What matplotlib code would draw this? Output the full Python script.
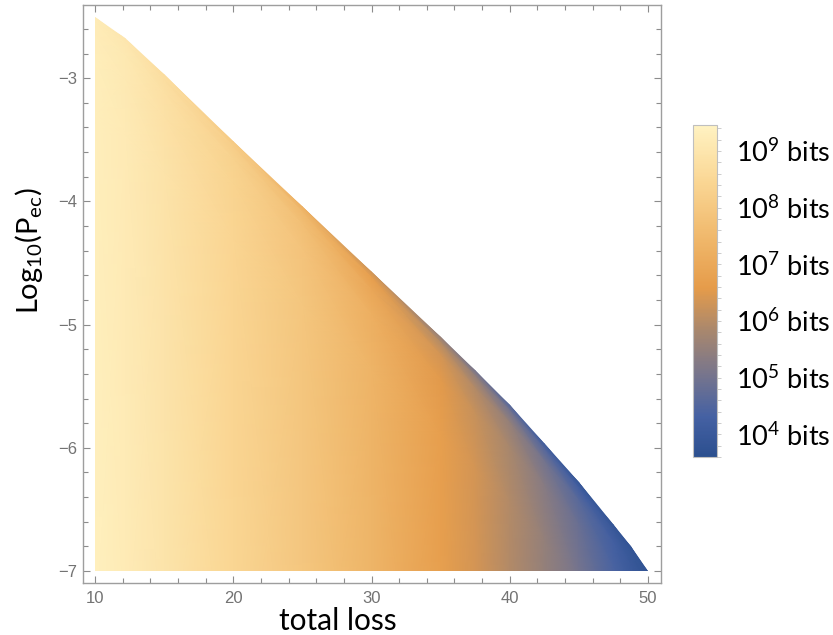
import numpy as np
import matplotlib
matplotlib.use("Agg")
import matplotlib.pyplot as plt
from matplotlib.colors import LinearSegmentedColormap, Normalize
from matplotlib.patches import Polygon
from matplotlib.ticker import MultipleLocator
import matplotlib.colorbar as mcolorbar

plt.rcParams['mathtext.fontset'] = 'custom'
plt.rcParams['mathtext.rm'] = 'Lato'
plt.rcParams['mathtext.it'] = 'Lato:italic'

# ======== data ========
# upper edge of the filled region: total loss -> max log10(P_ec)
loss = [10, 12.2, 15, 20, 25, 30, 35, 37.5, 40, 42.5, 45, 47.5, 48.75, 50]
edge_logp = [-2.50, -2.67, -2.97, -3.51, -4.04, -4.57, -5.10, -5.37, -5.65,
             -5.96, -6.28, -6.62, -6.80, -7.0]
logp_min = -7.0

# depth below the upper edge (in log10 P_ec units) where values were read
depth = [0, 0.05, 0.15, 0.35, 0.8, 5.0]
bits_d0 = [9.20, 9.00, 8.70, 8.05, 7.20, 6.30, 5.50, 5.00, 4.50, 4.10, 3.90, 3.85, 3.82, 3.80]
bits_d1 = [9.22, 9.05, 8.75, 8.20, 7.50, 6.70, 6.00, 5.50, 5.00, 4.55, 4.25, 4.00, 3.90, 3.80]
bits_d2 = [9.25, 9.10, 8.80, 8.30, 7.70, 6.95, 6.35, 5.95, 5.50, 5.00, 4.60, 4.25, 4.00, 3.80]
bits_d3 = [9.28, 9.13, 8.85, 8.37, 7.85, 7.20, 6.55, 6.20, 5.80, 5.30, 4.85, 4.40, 4.10, 3.80]
bits_d4 = [9.32, 9.17, 8.92, 8.42, 7.92, 7.35, 6.70, 6.35, 5.95, 5.50, 5.05, 4.55, 4.20, 3.80]
bits_d5 = [9.35, 9.20, 8.95, 8.45, 7.95, 7.40, 6.75, 6.40, 6.00, 5.55, 5.10, 4.60, 4.20, 3.80]

cbar_ticks = [4, 5, 6, 7, 8, 9]
cbar_min, cbar_max = 3.6, 9.46

# colour scale (blue -> grey -> orange -> cream), like StarryNightColors
cmap = LinearSegmentedColormap.from_list("starry", [
    (0.00, (0.17, 0.31, 0.56)),
    (0.12, (0.27, 0.38, 0.64)),
    (0.25, (0.47, 0.46, 0.55)),
    (0.38, (0.66, 0.53, 0.43)),
    (0.51, (0.90, 0.61, 0.29)),
    (0.66, (0.94, 0.72, 0.42)),
    (0.83, (0.98, 0.84, 0.58)),
    (1.00, (1.00, 0.95, 0.76)),
])
norm = Normalize(cbar_min, cbar_max)

grey = (0.55, 0.55, 0.55)

fig = plt.figure(figsize=(8.33, 6.35), dpi=100)
ax = fig.add_axes([83/833, 1-583/635, 578/833, 578/635])

X = np.tile(loss, (len(depth), 1))
Y = np.array(edge_logp)[None, :] - np.array(depth)[:, None]
Z = np.array([bits_d0, bits_d1, bits_d2, bits_d3, bits_d4, bits_d5])

region = Polygon(list(zip(loss, edge_logp)) + [(loss[-1], logp_min), (loss[0], logp_min)],
                 closed=True, facecolor='none', edgecolor='none')
ax.add_patch(region)
mesh = ax.pcolormesh(X, Y, Z, shading='gouraud', cmap=cmap, norm=norm)
mesh.set_clip_path(region)

ax.set_xlim(9.13, 50.94)
ax.set_ylim(-7.097, -2.406)
ax.xaxis.set_major_locator(MultipleLocator(10))
ax.xaxis.set_minor_locator(MultipleLocator(2))
ax.yaxis.set_major_locator(MultipleLocator(1))
ax.yaxis.set_minor_locator(MultipleLocator(0.2))
ax.tick_params(which='both', direction='in', top=True, right=True, color=grey, width=0.8)
ax.tick_params(which='major', length=5)
ax.tick_params(which='minor', length=3.5)
ax.tick_params(axis='x', pad=6, labelsize=12, labelcolor=(0.45, 0.45, 0.45))
ax.tick_params(axis='y', pad=4, labelsize=12, labelcolor=(0.45, 0.45, 0.45))
for lab in ax.get_xticklabels() + ax.get_yticklabels():
    lab.set_family('Liberation Sans')
for sp in ax.spines.values():
    sp.set_color((0.62, 0.62, 0.62))
    sp.set_linewidth(1.0)

fig.text(338/833, 1-630/635, 'total loss', ha='center', va='baseline',
         fontsize=21.5, family='Lato')
fig.text(29/833, 1-251/635, r'Log$_{\mathregular{10}}$(P$_{\mathregular{ec}}$)',
         ha='center', va='center', rotation=90, fontsize=21, family='Lato')

# ======== colour bar ========
cax = fig.add_axes([693/833, 1-457/635, 24/833, 332/635])
cb = mcolorbar.ColorbarBase(cax, cmap=cmap, norm=norm, orientation='vertical')
cb.outline.set_edgecolor((0.75, 0.75, 0.75))
cb.outline.set_linewidth(0.8)
cax.yaxis.set_major_locator(MultipleLocator(1))
cax.yaxis.set_minor_locator(MultipleLocator(0.2))
cax.set_yticks(cbar_ticks)
cax.set_yticklabels([r'$\mathregular{10^{%d}}$ bits' % t for t in cbar_ticks])
cax.tick_params(which='both', direction='out', color=(0.8, 0.8, 0.8), length=3, width=0.7)
cax.tick_params(axis='y', labelsize=19.5, pad=11)
for lab in cax.get_yticklabels():
    lab.set_family('Lato')

fig.savefig("out.png", dpi=100)
